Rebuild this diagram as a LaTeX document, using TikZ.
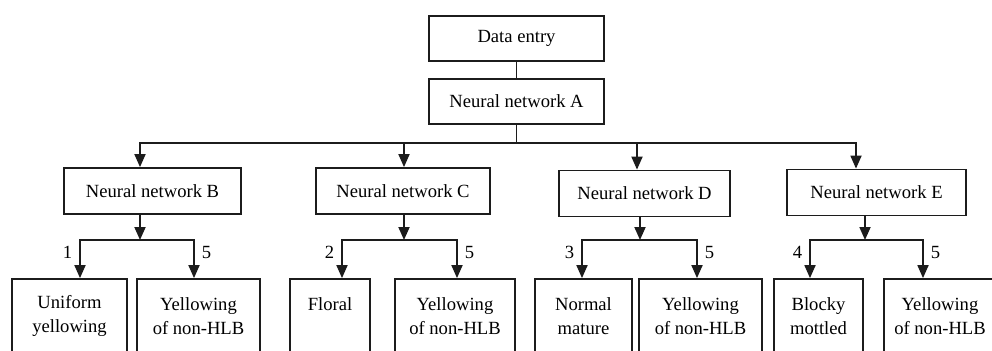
\documentclass[tikz,border=0pt]{standalone}
\usepackage{fontspec}
\setmainfont{Liberation Serif}
\usetikzlibrary{arrows.meta}
\definecolor{ink}{HTML}{1C1C1C}
\tikzset{fig/.style={line join=miter,>={Triangle[width=5.5pt,length=6.5pt]}},
 box/.style={draw=ink,line width=0.9pt,inner sep=0pt,align=center,minimum height=23pt},
 leaf/.style={box,minimum height=37pt},
 link/.style={draw=ink,line width=0.9pt},
 num/.style={inner sep=3.5pt}}

\begin{document}
\begin{tikzpicture}[fig,x=0.5pt,y=-0.5pt,font=\fontsize{9.3}{12}\selectfont]
 \useasboundingbox (0,0) rectangle (992,350);
 \clip (0,0) rectangle (992,350);
 % top of the tree
 \node[box,minimum width=87.5pt,minimum height=22.5pt] (entry) at (516.5,38.5) {Data entry};
 \node[box,minimum width=87.5pt,minimum height=22.5pt] (netA) at (516.5,101.5) {Neural network A};
 \draw[link] (entry) -- (netA);
 \draw[link] (netA.south) -- ++(0,18) coordinate (bus);
 % second level and leaves
 \foreach \n/\cx/\cy/\w/\ix/\ox/\lx/\rx/\lc/\lw/\ltxt/\rc/\rw/\k in {
  B/152.5/191/88.5/140/140/80/194/69.5/57.5/{Uniform\\yellowing}/198.5/61.5/1,
  C/403/191/87/404/404/342/457/330/40/{Floral\\~}/455/60/2,
  D/644.5/193.5/85.5/637/640/582/697/583.5/48.5/{Normal\\mature}/700.5/61.5/3,
  E/876.5/192.5/89.5/856/865/810/923/818.5/44.5/{Blocky\\mottled}/940/56/4}{
  \node[box,minimum width=\w pt] (net\n) at (\cx,\cy) {Neural network \n};
  \coordinate (in\n) at (\ix,0);
  \coordinate (fork\n) at (\ox,240);
  \draw[link,->] (fork\n |- net\n.south) -- (fork\n);
  \node[leaf,minimum width=\lw pt] (left\n) at (\lc,316) {\ltxt};
  \node[leaf,minimum width=\rw pt] (right\n) at (\rc,316) {Yellowing\\of non-HLB};
  \coordinate (lin\n) at (\lx,0); \coordinate (rin\n) at (\rx,0);
  \draw[link,<->] (lin\n |- left\n.north) -- node[num,left,pos=0.67] (k\n) {\k} (lin\n |- fork\n)
   -- (rin\n |- fork\n) -- node[num,right,pos=0.33] (five\n) {5} (rin\n |- right\n.north);
 }
 \draw[link,<->] (inB |- netB.north) -- (inB |- bus) -- (inE |- bus) -- (inE |- netE.north);
 \draw[link,->] (inC |- bus) -- (inC |- netC.north);
 \draw[link,->] (inD |- bus) -- (inD |- netD.north);
\end{tikzpicture}
\end{document}
